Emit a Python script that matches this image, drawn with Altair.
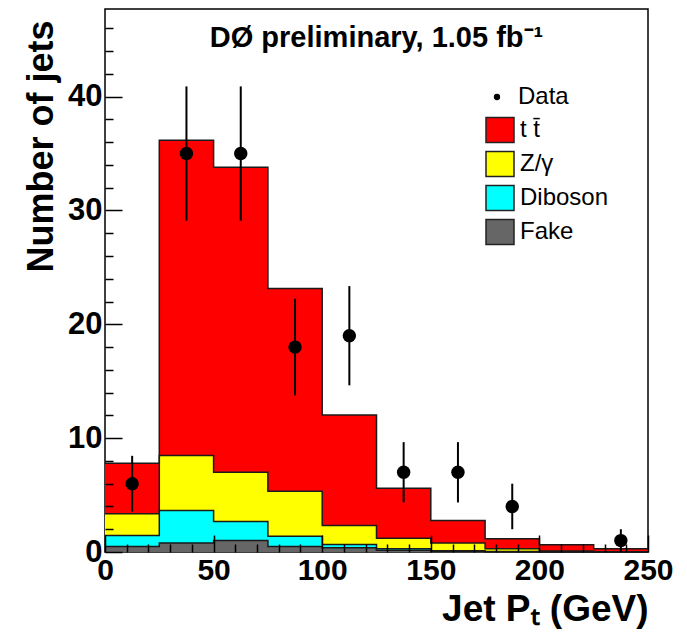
import altair as alt
import pandas as pd

# ---- data ----
bin_lo = [0, 25, 50, 75, 100, 125, 150, 175, 200, 225]
x_max = 250
ttbar = [4.44, 27.7, 26.8, 17.8, 9.7, 4.4, 1.99, 0.88, 0.55, 0.25]
zgamma = [1.91, 4.83, 4.32, 3.95, 1.67, 0.93, 0.66, 0.23, 0.06, 0.02]
diboson = [0.97, 2.85, 1.68, 0.91, 0.29, 0.13, 0.06, 0.03, 0.01, 0.01]
fake = [0.48, 0.80, 1.00, 0.48, 0.37, 0.15, 0.06, 0.02, 0.01, 0.00]
data_n = [6, 35, 35, 18, 19, 7, 7, 4, 0, 1]
data_err = [2.45, 5.9, 5.9, 4.24, 4.36, 2.65, 2.65, 2.0, 0.0, 1.0]

series_names = ["t t\u0304", "Z/\u03b3", "Diboson", "Fake"]
series_colors = ["#ff0000", "#ffff00", "#00ffff", "#666666"]
x_major_ticks = [0, 50, 100, 150, 200, 250]
x_minor_ticks = [v for v in range(10, 250, 10) if v % 50 != 0]
y_major_ticks = [0, 10, 20, 30, 40]
y_minor_ticks = [v for v in range(2, 48, 2) if v % 10 != 0]
title_text = "D\u00d8 preliminary, 1.05 fb\u207b\u00b9"
x_title = "Jet P\u209c (GeV)"
y_title = "Number of jets"

# ---- tables ----
rows = []
stack_order = [("Fake", fake), ("Diboson", diboson), ("Z/\u03b3", zgamma), ("t t\u0304", ttbar)]
for ordv, (name, vals) in enumerate(stack_order):
    xs = bin_lo + [x_max]
    vs = vals + [vals[-1]]
    for xv, vv in zip(xs, vs):
        rows.append({"x": xv, "v": vv, "series": name, "ord": ordv})
hist_df = pd.DataFrame(rows)

pts_df = pd.DataFrame({
    "xc": [b + 12.5 for b in bin_lo],
    "n": data_n,
    "err": data_err,
})
pts_df["lo"] = pts_df["n"] - pts_df["err"]
pts_df["hi"] = pts_df["n"] + pts_df["err"]
pts_df["lab"] = "Data"
pts_df = pts_df[pts_df["n"] > 0]

FONT = "Liberation Sans"
xscale = alt.Scale(domain=[0, 250], nice=False, zero=False)
yscale = alt.Scale(domain=[0, 47.7], nice=False)

x_major = alt.Axis(values=x_major_ticks, tickSize=17, offset=-17, domain=False, grid=False,
                   labelFlush=False, labelFont=FONT, labelFontSize=30, labelFontWeight="bold",
                   labelColor="black", labelPadding=3, tickColor="black", tickWidth=1.5,
                   title=x_title, titleFont=FONT, titleFontSize=37, titleFontWeight="bold",
                   titleColor="black", titleX=543, titleY=85, titleAlign="right",
                   titleBaseline="alphabetic", zindex=1, orient="bottom", format="d")
x_minor = alt.Axis(values=x_minor_ticks, tickSize=8, offset=-8, domain=False, grid=False,
                   labels=False, title=None, tickColor="black", tickWidth=1.5, zindex=1,
                   orient="bottom")
y_major = alt.Axis(values=y_major_ticks, tickSize=17, offset=-17, domain=False, grid=False,
                   labelFont=FONT, labelFontSize=31, labelFontWeight="bold", labelColor="black",
                   labelPadding=3, tickColor="black", tickWidth=1.5,
                   title=y_title, titleFont=FONT, titleFontSize=36, titleFontWeight="bold",
                   titleColor="black", titleX=-70, titleY=11, titleAlign="right",
                   titleBaseline="alphabetic", zindex=1, orient="left", format="d")
y_minor = alt.Axis(values=y_minor_ticks, tickSize=8, offset=-8, domain=False, grid=False,
                   labels=False, title=None, tickColor="black", tickWidth=1.5, zindex=1,
                   orient="left")

stacked = alt.Chart(hist_df).transform_stack(
    stack="v", groupby=["x"], sort=[alt.SortField("ord", order="ascending")], as_=["y0", "y1"]
)

hist = stacked.mark_area(interpolate="step-after", opacity=1).encode(
    x=alt.X("x:Q", scale=xscale, axis=x_major),
    y=alt.Y("y1:Q", scale=yscale, axis=y_major),
    y2="y0:Q",
    color=alt.Color("series:N", scale=alt.Scale(domain=series_names, range=series_colors),
                    legend=alt.Legend(orient="none", legendX=380, legendY=106, title=None,
                                      symbolType="M-1,-0.9H1V0.9H-1Z", symbolSize=784,
                                      symbolStrokeColor="#222222", symbolStrokeWidth=1.5,
                                      symbolOpacity=1, labelFont=FONT, labelFontSize=24,
                                      labelColor="black", labelOffset=5, rowPadding=2,
                                      padding=0)),
)

outlines = stacked.mark_line(interpolate="step-after", color="#1a1a1a", strokeWidth=1.5).encode(
    x=alt.X("x:Q", scale=xscale, axis=None),
    y=alt.Y("y1:Q", scale=yscale, axis=None),
    detail="series:N",
)

rules = alt.Chart(pts_df).mark_rule(color="black", strokeWidth=2).encode(
    x=alt.X("xc:Q", scale=xscale, axis=x_minor),
    y=alt.Y("lo:Q", scale=yscale, axis=y_minor),
    y2="hi:Q",
)

points = alt.Chart(pts_df).mark_point(filled=True, size=180, opacity=1, color="black").encode(
    x=alt.X("xc:Q", scale=xscale, axis=None),
    y=alt.Y("n:Q", scale=yscale, axis=None),
    shape=alt.Shape("lab:N", scale=alt.Scale(domain=["Data"], range=["circle"]),
                    legend=alt.Legend(orient="none", legendX=380, legendY=76, title=None,
                                      symbolSize=40, symbolFillColor="black",
                                      symbolStrokeColor="black", symbolOpacity=1,
                                      labelFont=FONT, labelFontSize=24, labelColor="black",
                                      labelOffset=9, padding=0)),
)

chart = alt.layer(hist, outlines, rules, points).resolve_axis(
    x="independent", y="independent"
).properties(
    width=543, height=543,
    title=alt.TitleParams(text=title_text, font=FONT, fontSize=29, fontWeight="bold",
                          color="black", anchor="middle", baseline="alphabetic",
                          offset=-67, frame="group"),
    autosize=alt.AutoSizeParams(type="none"),
    padding={"left": 105, "top": 9, "right": 39, "bottom": 86},
).configure_view(stroke="black", strokeWidth=1.5)

chart.save("out.html", embed_options={"renderer": "svg", "actions": False})
